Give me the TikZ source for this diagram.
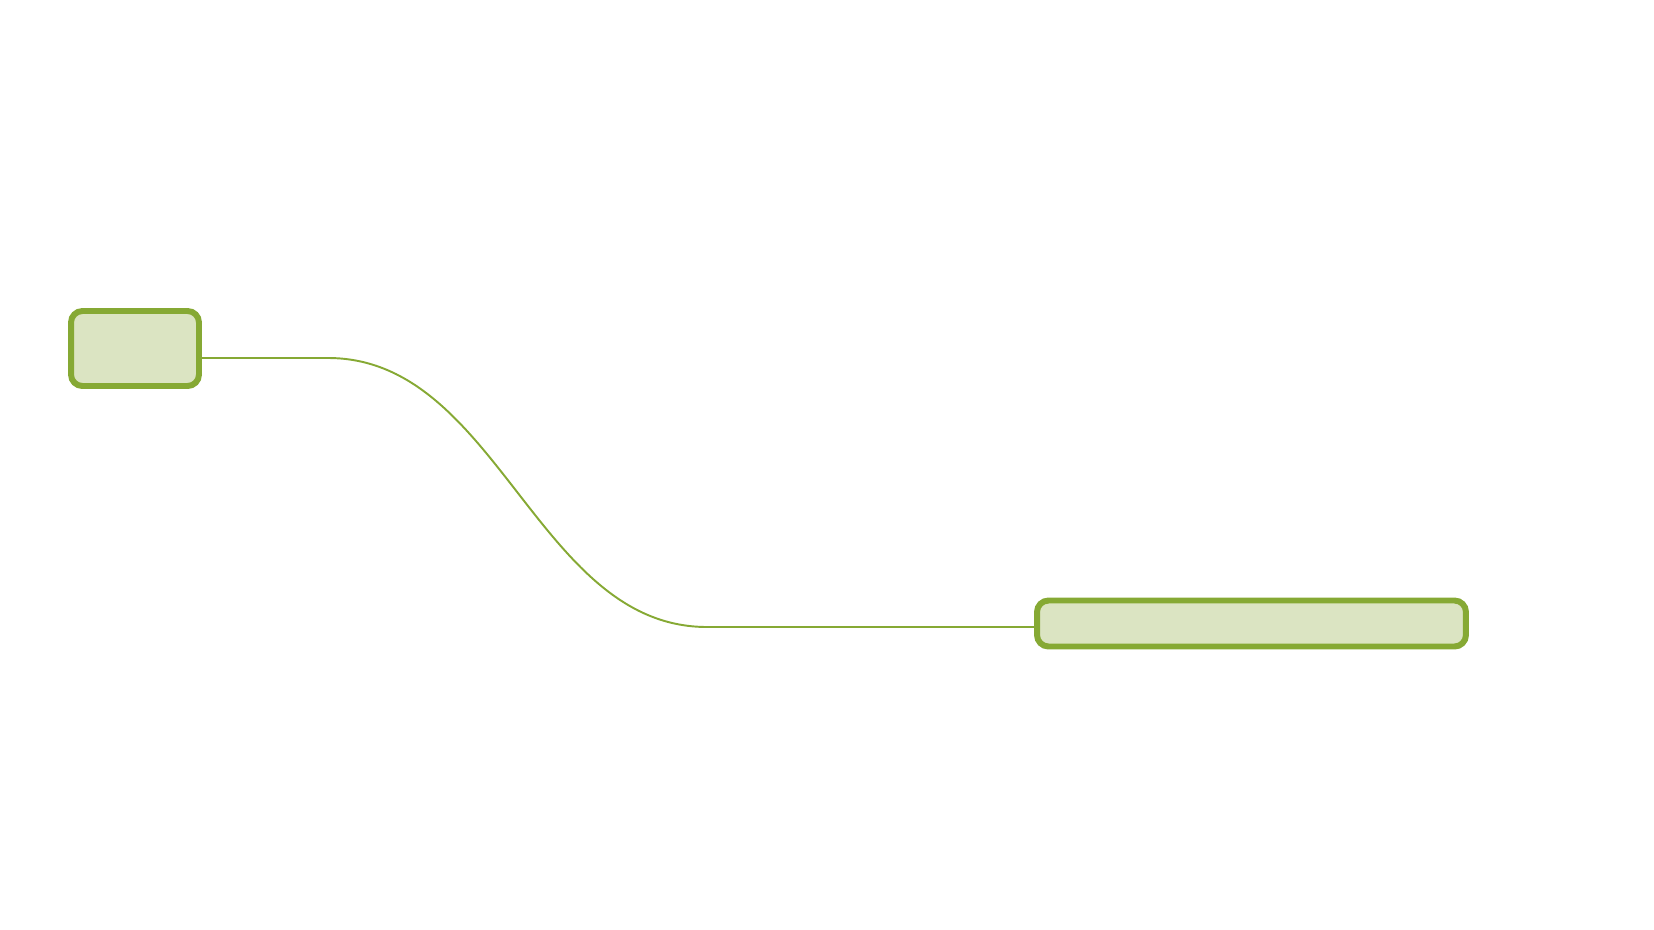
\documentclass[tikz,border=0pt]{standalone}
\usetikzlibrary{positioning}
\definecolor{leafline}{HTML}{86A934}
\definecolor{leaffill}{HTML}{DBE4C2}
\begin{document}
\begin{tikzpicture}[x=0.02cm,y=-0.02cm,
        leaf/.style={draw=leafline,fill=leaffill,line width=3.4pt,rounded corners=6.5pt,inner sep=0pt},
        link/.style={draw=leafline,line width=1.1pt}]
        \useasboundingbox (0,0) rectangle (1654,930);
        %
        \node[leaf,minimum width=2.56cm,minimum height=1.5cm] (root) at (135,348.5) {};
        \node[leaf,minimum width=8.58cm,minimum height=0.92cm] (topic) at (1251.5,623.5) {};
        %
        \coordinate (bendA) at (328,358);
        \coordinate (bendB) at (707,627);
        \draw[link] ([yshift=-5.4pt]root.east) -- (bendA) .. controls +(170,0) and +(-170,0) .. (bendB) -- ([yshift=-2pt]topic.west);
        \end{tikzpicture}
\end{document}
